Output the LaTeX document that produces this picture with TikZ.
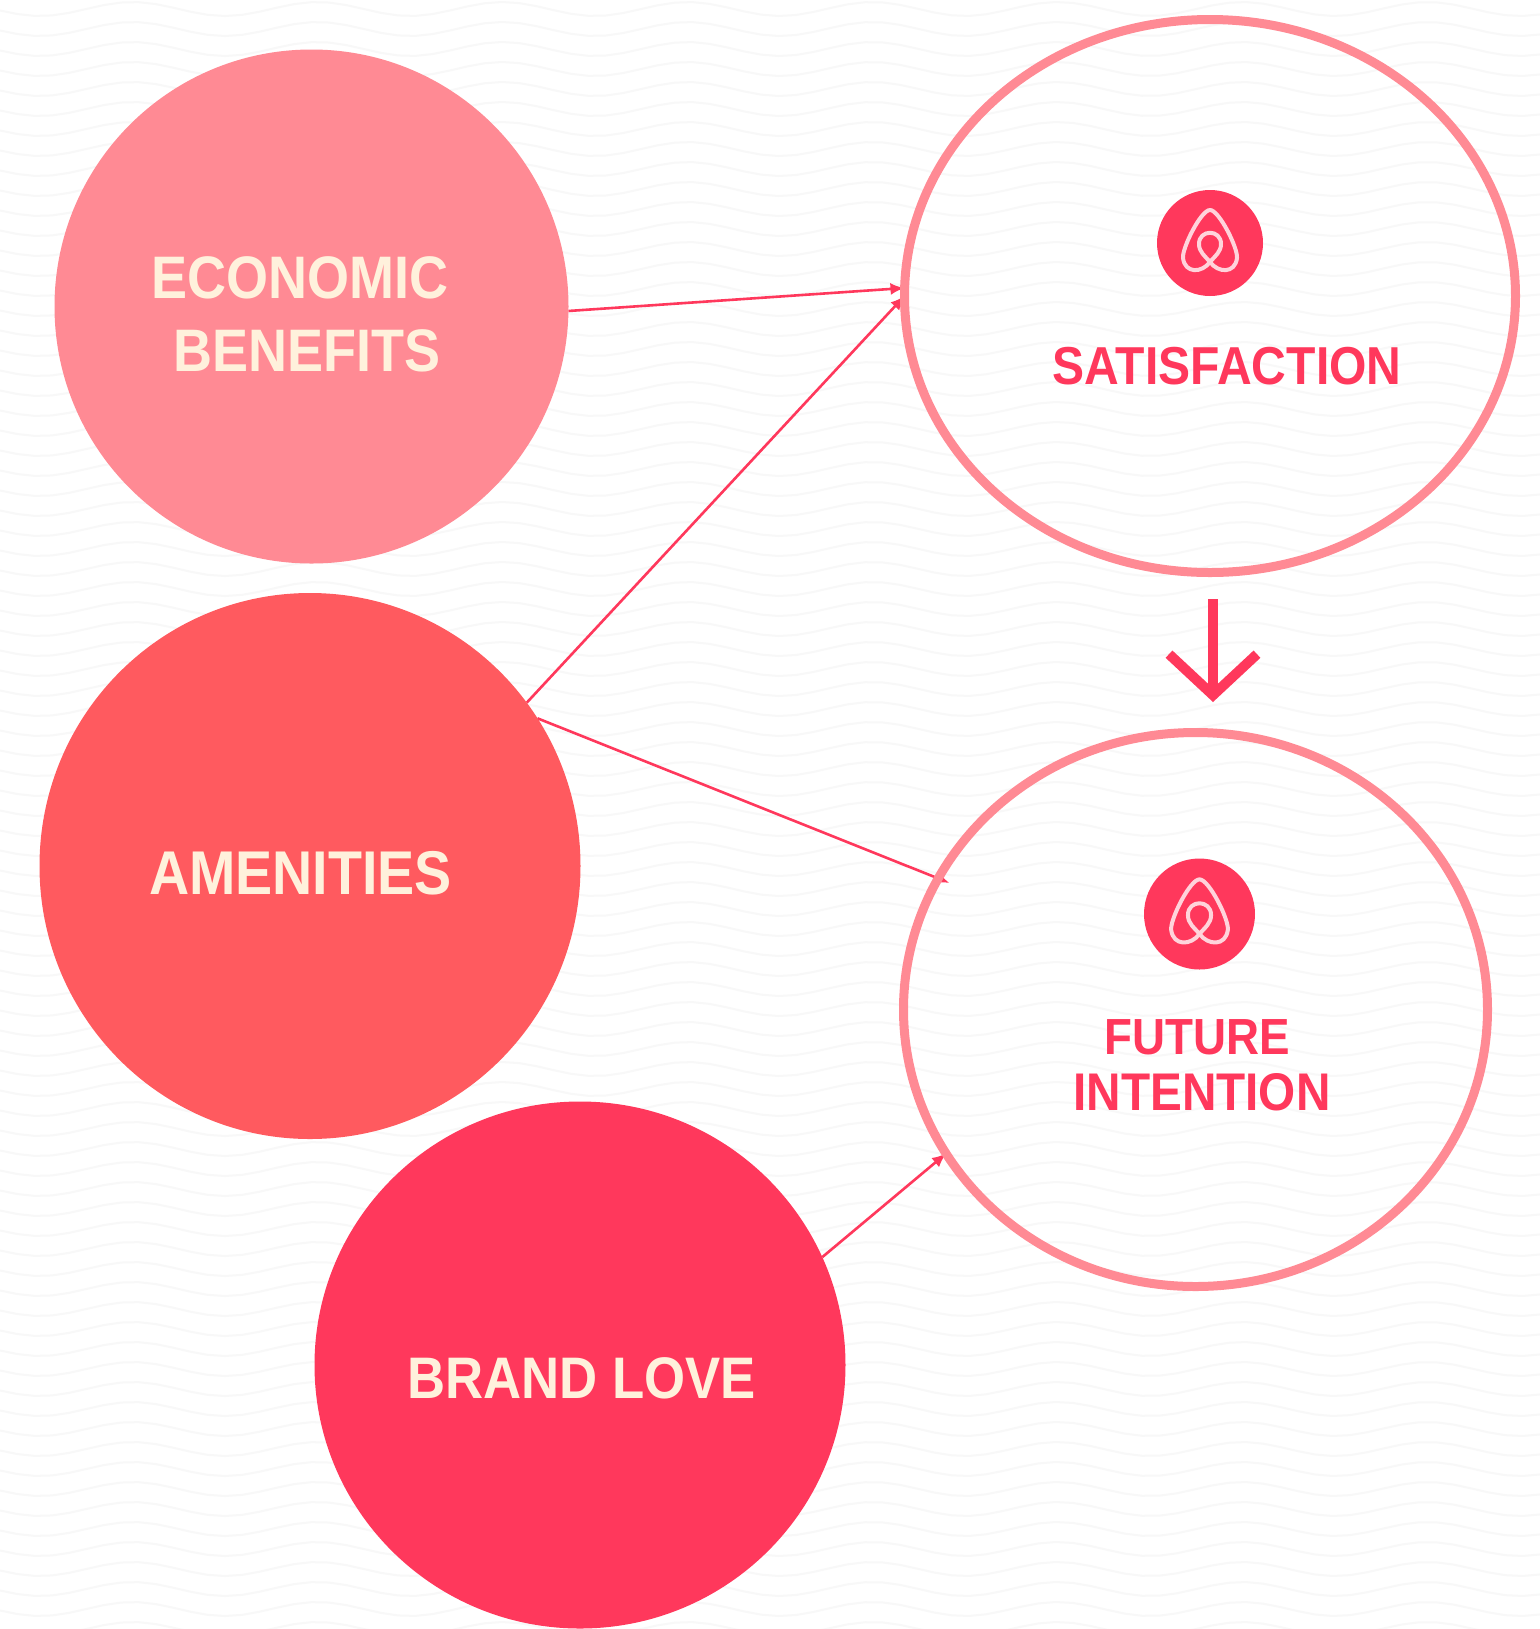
\documentclass[tikz,border=0pt]{standalone}
\usepackage{fontspec}
\setmainfont{Liberation Sans}
\newfontfamily\lab[FakeStretch=0.9]{Liberation Sans}
\usetikzlibrary{arrows.meta,shapes.geometric}
\pgfdeclarelayer{paper}
\pgfdeclarelayer{links}
\pgfsetlayers{paper,links,main}
\definecolor{rosa}{HTML}{FF8A94}
\definecolor{coral}{HTML}{FF5A5F}
\definecolor{rausch}{HTML}{FF385C}
\definecolor{cream}{HTML}{FFF1DC}
\definecolor{wavegrey}{HTML}{F8F8F8}
\definecolor{belo}{HTML}{FFD3DB}
\tikzset{
  wave/.style={draw=wavegrey,line width=1pt},
  blob/.style={ellipse,inner sep=0pt,outer sep=0pt,draw=none},
  ring/.style={ellipse,inner sep=0pt,outer sep=0pt,draw=rosa,fill=none,line width=4.5pt},
  badge/.style={circle,inner sep=0pt,outer sep=0pt,fill=rausch,draw=none},
  lightlabel/.style={inner sep=0pt,text=cream,font=\lab\bfseries\fontsize{30}{30}\selectfont},
  darklabel/.style={inner sep=0pt,text=rausch,font=\lab\bfseries\fontsize{26.5}{26.5}\selectfont},
  link/.style={draw=rausch,line width=1.3pt,-{Latex[length=7pt,width=6pt]}},
  bigarrow/.style={draw=rausch,line width=5pt,-{Straight Barb[length=20.5pt,width=44pt,line width=5pt]}},
  pics/belologo/.style={code={
    \draw[belo,line width=2pt,line join=round]
      (0,19) .. controls (-8,30) and (-25,31) .. (-27,15)
      .. controls (-28,5) and (-9,-33) .. (0,-33)
      .. controls (9,-33) and (28,5) .. (27,15)
      .. controls (25,31) and (8,30) .. (0,19)
      .. controls (-5,13) and (-11,9) .. (-11,1)
      .. controls (-11,-14) and (11,-14) .. (11,1)
      .. controls (11,9) and (5,13) .. (0,19) -- cycle;
  }}
}
\begin{document}
\begin{tikzpicture}[x=0.5pt,y=-0.5pt]
\useasboundingbox (0,0) rectangle (1540,1629);
\begin{pgfonlayer}{paper}
  \fill[white] (0,0) rectangle (1540,1629);
  \foreach \yy in {-11,9,...,1649}{
    \draw[wave] plot[domain=0:1540,samples=90] (\x,{\yy+7*cos(1.946*(\x-225))});
  }
\end{pgfonlayer}

\node[blob,fill=rosa,minimum width=257pt,minimum height=257pt] (econ) at (311.5,306.5) {};
\node[blob,fill=coral,minimum width=270.5pt,minimum height=273pt] (amen) at (310,866) {};
\node[blob,fill=rausch,minimum width=265.5pt,minimum height=263.5pt] (brand) at (580,1365) {};
\node[ring,minimum width=305.5pt,minimum height=276.5pt] (sat) at (1210,296) {};
\node[ring,minimum width=292pt,minimum height=277pt] (fut) at (1195.5,1009.5) {};

\node[lightlabel] (econa) at (300,278) {ECONOMIC};
\node[lightlabel] (econb) at (307,351) {BENEFITS};
\node[lightlabel,font=\lab\bfseries\fontsize{30.9}{30.9}\selectfont] (amenl) at (300.5,873) {AMENITIES};
\node[lightlabel,font=\lab\bfseries\fontsize{29.3}{29.3}\selectfont] (brandl) at (581.5,1378.5) {BRAND LOVE};
\node[darklabel,font=\lab\bfseries\fontsize{26.7}{26.7}\selectfont] (satl) at (1227,366) {SATISFACTION};
\node[darklabel,font=\lab\bfseries\fontsize{25.4}{25.4}\selectfont] (futa) at (1197.5,1037.5) {FUTURE};
\node[darklabel] (futb) at (1202,1092) {INTENTION};

\node[badge,minimum size=53pt] (logoa) at (1210,243) {};
\node[badge,minimum size=55.5pt] (logob) at (1199.5,914) {};
\pic at (logoa) {belologo};
\pic[scale=1.05] at (logob) {belologo};

\begin{pgfonlayer}{links}
  \draw[link] (econ.-1.5) -- ([yshift=4pt]sat.west);
  \draw[link] (amen.37.2) -- (sat.180.7);
  \draw[link,shorten >=-6pt] (amen.33.3) -- (fut.153.5);
  \draw[link] (brand.24.2) -- (fut.210.1);
\end{pgfonlayer}

\coordinate (arrowtop) at (1213,599);
\coordinate (arrowtip) at (1213,702);
\draw[bigarrow] (arrowtop) -- (arrowtip);
\end{tikzpicture}
\end{document}
